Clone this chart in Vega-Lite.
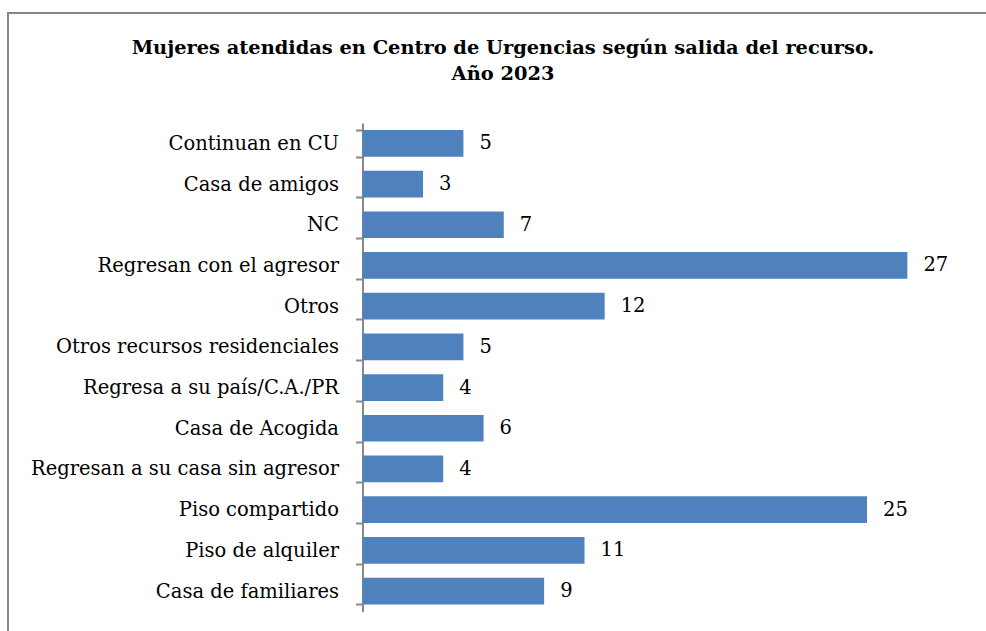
{
  "$schema": "https://vega.github.io/schema/vega-lite/v6.json",
  "autosize": {"type": "none"},
  "padding": {"left": 8, "top": 13, "right": 0, "bottom": 0},
  "width": 990,
  "height": 708,
  "background": "white",
  "title": {
    "text": ["Mujeres atendidas en Centro de Urgencias según salida del recurso.", "Año 2023"],
    "font": "DejaVu Serif",
    "fontSize": 19.4,
    "fontWeight": "bold",
    "color": "#000000",
    "lineHeight": 26,
    "baseline": "top",
    "anchor": "middle",
    "offset": -81
  },
  "data": {
    "values": [
      {"cat": "Continuan en CU", "n": 5},
      {"cat": "Casa de amigos", "n": 3},
      {"cat": "NC", "n": 7},
      {"cat": "Regresan con el agresor", "n": 27},
      {"cat": "Otros", "n": 12},
      {"cat": "Otros recursos residenciales", "n": 5},
      {"cat": "Regresa a su país/C.A./PR", "n": 4},
      {"cat": "Casa de Acogida", "n": 6},
      {"cat": "Regresan a su casa sin agresor", "n": 4},
      {"cat": "Piso compartido", "n": 25},
      {"cat": "Piso de alquiler", "n": 11},
      {"cat": "Casa de familiares", "n": 9}
    ]
  },
  "encoding": {
    "y": {
      "field": "cat", "type": "nominal", "sort": null,
      "scale": {"range": [110, 598.4], "paddingInner": 0.345, "paddingOuter": 0.1725, "round": false},
      "axis": {
        "title": null,
        "offset": -354.5,
        "domain": true,
        "domainColor": "#898989",
        "domainWidth": 2,
        "tickBand": "extent",
        "tickSize": 7,
        "tickWidth": 2,
        "tickColor": "#898989",
        "labelPadding": 17,
        "labelFont": "DejaVu Serif",
        "labelFontSize": 19.5,
        "labelColor": "#000000",
        "labelLimit": 400
      }
    },
    "x": {
      "field": "n", "type": "quantitative",
      "scale": {"domain": [-17.567, 31.49], "nice": false, "zero": false},
      "axis": null
    }
  },
  "layer": [
    {
      "mark": {"type": "bar", "color": "#4F81BD"}
    },
    {
      "mark": {"type": "text", "align": "left", "baseline": "middle", "dx": 16, "font": "DejaVu Serif", "fontSize": 19.5, "color": "#000000"},
      "encoding": {
        "text": {"field": "n", "type": "quantitative"}
      }
    }
  ],
  "config": {
    "view": {"stroke": "#868686", "strokeWidth": 2}
  }
}
